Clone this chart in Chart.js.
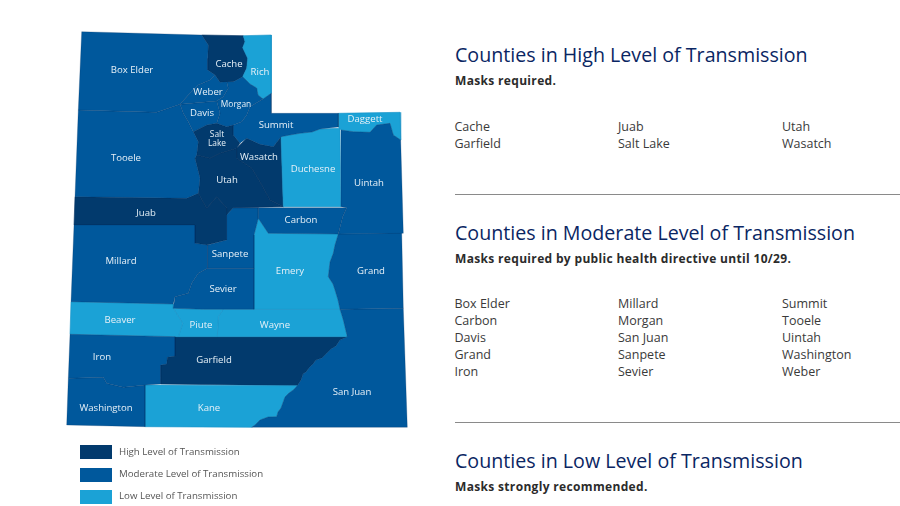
<!DOCTYPE html>
<html>
<head>
<meta charset="utf-8">
<script src="https://cdn.jsdelivr.net/npm/chart.js@4"></script>
<style>
  html, body { margin:0; padding:0; background:#fff; width:900px; height:506px; overflow:hidden; font-family:"Open Sans", sans-serif; }
  #map { position:absolute; left:0; top:0; filter:blur(0.4px); }
  .abs { position:absolute; white-space:nowrap; }
  .title { left:455px; font-size:19.65px; line-height:26px; color:#0a2663; }
  .note { left:455px; font-size:12px; line-height:16px; font-weight:700; color:#2b2b2b; letter-spacing:.33px; }
  .name { font-size:12.5px; line-height:17px; color:#3a3a3a; }
  .rule { left:455px; width:445px; height:1px; background:#8a8a8a; }
  .swatch { left:80px; width:32px; height:14px; filter:blur(0.4px); }
  .key { left:119px; font-size:9.7px; line-height:14px; color:#555; }
</style>
</head>
<body>
<canvas id="map" width="430" height="506" style="width:430px;height:506px"></canvas>
<script>
// ── County outlines (map units) ──────────────────────────────────────────────
const boxElder = [[81.7,31.7],[201.7,35],[208.3,45],[207.7,58.3],[207.7,70],[215,75],[210,80],[198.3,85],[188.3,95],[180,104.3],[156.7,112.3],[78.3,110]];
const cache = [[201.7,35],[243.3,35.7],[245,41.7],[242.7,47.7],[247.7,58.3],[246.7,68.3],[242.7,76.7],[233.3,81.7],[220,82.3],[215,75],[207.7,70],[207.7,58.3],[208.3,45]];
const rich = [[243.3,35.7],[271.3,35],[271.3,93.3],[263,99],[258,95],[256.7,88],[250,84],[242.7,76.7],[246.7,68.3],[247.7,58.3],[242.7,47.7],[245,41.7]];
const weber = [[215,75],[220,82.3],[226.7,81.7],[228.3,88.3],[223.3,96.7],[216.7,101],[180,104.3],[188.3,95],[198.3,85],[210,80]];
const davis = [[180,104.3],[216.7,101],[220,113.3],[216.7,123.3],[206.7,125],[193.3,131.7],[188.3,121.7],[183.3,113.3]];
const morgan = [[216.7,101],[223.3,96.7],[228.3,88.3],[226.7,81.7],[233.3,81.7],[242.7,76.7],[250,84],[256.7,88],[258,95],[263,99],[250,106.7],[246.7,115],[241.7,121.7],[233.3,125],[226.7,126.7],[216.7,123.3],[220,113.3]];
const summit = [[271.3,93.3],[271.3,113.3],[338.3,113.3],[338.3,127],[320,129],[312,132],[300,133.3],[290,135],[281,136.7],[273.3,146.7],[260,144.3],[246.7,138.3],[240,143.3],[233.3,135],[233.3,125],[241.7,121.7],[246.7,115],[250,106.7],[263,99]];
const daggett = [[338.3,113.3],[400,112.3],[400.7,140],[393.3,135],[390,123.3],[376.7,125],[370,132.3],[353.3,131.7],[341,130],[338.3,127]];
const saltLake = [[193.3,131.7],[206.7,125],[216.7,123.3],[226.7,126.7],[233.3,125],[233.3,135],[240,143.3],[236.7,148.3],[220,153.3],[210,158.3],[196.7,155],[198.3,141.7]];
const wasatch = [[236.7,148.3],[246.7,138.3],[260,144.3],[273.3,146.7],[281,136.7],[283.3,206.7],[270,200],[260,181.7],[251.7,168.3],[236.7,158.3]];
const duchesne = [[281,136.7],[290,135],[300,133.3],[312,132],[320,129],[340,128.3],[341,206.7],[283.3,206.7]];
const uintah = [[341,130],[353.3,131.7],[370,132.3],[376.7,125],[390,123.3],[393.3,135],[400.7,140],[403.3,233.3],[338.3,234],[342.7,216.7],[346.7,207.7],[341,206.7]];
const tooele = [[78.3,110],[156.7,112.3],[180,104.3],[183.3,113.3],[188.3,121.7],[193.3,131.7],[198.3,141.7],[196.7,155],[195,158.3],[200,178.3],[198.3,193.3],[186.7,198.3],[75,196.7]];
const utah = [[196.7,155],[210,158.3],[220,153.3],[236.7,148.3],[236.7,158.3],[251.7,168.3],[260,181.7],[270,200],[283.3,206.7],[233.3,207.7],[226.7,215],[226.7,208],[216.7,196.7],[206.7,208.3],[198.3,193.3],[200,178.3],[195,158.3]];
const juab = [[75,196.7],[186.7,198.3],[198.3,193.3],[206.7,208.3],[216.7,196.7],[226.7,208],[226.7,240],[206.7,245],[195,243.3],[195,225],[74,225]];
const carbon = [[233.3,207.7],[346.7,207.7],[342.7,216.7],[338.3,234],[268.3,233.3],[258.3,218.3],[258.3,207.7]];
const sanpete = [[233.3,207.7],[258.3,207.7],[258.3,218.3],[254,235],[254,268.3],[207.7,268.3],[207.7,245],[226.7,240],[226.7,215]];
const emery = [[258.3,218.3],[268.3,233.3],[338.3,234],[335,245],[333.3,253.3],[330,262],[328.3,276.7],[333,284],[335,290],[338,300],[340,309.3],[254,309.3],[254,235]];
const grand = [[338.3,234],[401.7,232.7],[403.3,308.3],[340,309.3],[338,300],[335,290],[333,284],[328.3,276.7],[330,262],[333.3,253.3],[335,245]];
const millard = [[74,225],[195,225],[195,243.3],[207.7,245],[207.7,268.3],[198.3,273.3],[191.7,283.3],[188.3,293.3],[175,296.7],[173.3,304],[71,301.7]];
const sevier = [[207.7,268.3],[254,268.3],[254,309.3],[223.3,309.3],[203.3,309.3],[173.3,308.3],[175,296.7],[188.3,293.3],[191.7,283.3],[198.3,273.3]];
const beaver = [[71,301.7],[173.3,304],[173.3,308.3],[182.7,323.3],[178.3,336.7],[70,334.3]];
const piute = [[173.3,308.3],[203.3,309.3],[223.3,309.3],[218.3,316.7],[217.3,336.7],[178.3,336.7],[182.7,323.3]];
const wayne = [[223.3,309.3],[340,309.3],[343.3,320],[347.3,336.7],[217.3,336.7],[218.3,316.7]];
const iron = [[70,334.3],[175,336.7],[175,356],[167.3,357.3],[166.7,364],[160.7,365],[160.7,384],[145,385],[123.3,387.3],[106.7,383.3],[103.3,377.3],[68.3,378.3]];
const garfield = [[175,336.7],[347.3,336.7],[340,340],[336,346],[331,349],[326.7,353.3],[322,358],[316,360],[313,364],[310,366.7],[306,372],[303,374],[301,380],[297.3,385.7],[160.7,384],[160.7,365],[166.7,364],[167.3,357.3],[175,356]];
const kane = [[145,385],[297.3,385.7],[293.3,390],[289,393],[285,397],[283.3,401.7],[281,408],[278,412],[276.7,416.7],[268,417],[260,420],[255,425],[251.7,427.3],[145,426.7]];
const washington = [[68.3,378.3],[103.3,377.3],[106.7,383.3],[123.3,387.3],[145,385],[145,426.7],[66.7,425]];
const sanJuan = [[340,309.3],[403.3,308.3],[407.3,427.3],[251.7,427.3],[255,425],[260,420],[268,417],[276.7,416.7],[278,412],[281,408],[283.3,401.7],[285,397],[289,393],[293.3,390],[297.3,385.7],[301,380],[303,374],[306,372],[310,366.7],[313,364],[316,360],[322,358],[326.7,353.3],[331,349],[336,346],[340,340],[347.3,336.7],[343.3,320]];

// ── Transmission level per county ────────────────────────────────────────────
const highShapes     = [cache, saltLake, wasatch, utah, juab, garfield];
const moderateShapes = [boxElder, weber, davis, morgan, summit, uintah, tooele, carbon, sanpete, grand, millard, sevier, iron, washington, sanJuan];
const lowShapes      = [rich, daggett, duchesne, emery, beaver, piute, wayne, kane];

const levelNames  = ["High Level of Transmission", "Moderate Level of Transmission", "Low Level of Transmission"];
const levelColors = ["#023a6d", "#00589c", "#1ba2d6"];

// ── Map labels ───────────────────────────────────────────────────────────────
const labelNames = ["Box Elder","Cache","Rich","Weber","Morgan","Davis","Summit","Daggett","Salt","Lake","Wasatch","Duchesne","Tooele","Uintah","Utah","Juab","Carbon","Sanpete","Emery","Grand","Millard","Sevier","Beaver","Piute","Wayne","Iron","Garfield","San Juan","Washington","Kane"];
const labelX     = [132,229,260,208,236,202,276,365,217,217,259,313,126,369,227,146,301,230,290,371,121,223,120,201,275,102,214,352,106,209];
const labelY     = [70.5,64.5,72.5,92.5,104.5,113.5,125.5,119.5,134.5,143.5,157.5,169.5,158.5,183.5,180.5,213.5,220.5,254.5,271.5,271.5,261.5,289.5,320.5,325.5,325.5,357.5,360.5,392.5,408.5,408.5];
const smallLabels = ["Morgan", "Salt", "Lake"];

// ── Right-hand lists ─────────────────────────────────────────────────────────
const highCounties     = [["Cache","Garfield"],["Juab","Salt Lake"],["Utah","Wasatch"]];
const moderateCounties = [["Box Elder","Carbon","Davis","Grand","Iron"],["Millard","Morgan","San Juan","Sanpete","Sevier"],["Summit","Tooele","Uintah","Washington","Weber"]];

function addText(cls, text, left, top) {
  const el = document.createElement("div");
  el.className = "abs " + cls;
  el.textContent = text;
  if (left !== null) el.style.left = left + "px";
  el.style.top = top + "px";
  document.body.appendChild(el);
}

function addList(columns, top) {
  const colX = [454.5, 618, 782];
  columns.forEach((names, c) => names.forEach((n, r) => addText("name", n, colX[c], top + r * 17)));
}

addText("title", "Counties in High Level of Transmission", null, 42);
addText("note", "Masks required.", null, 73);
addList(highCounties, 118);
addText("rule", "", null, 194);
addText("title", "Counties in Moderate Level of Transmission", null, 220);
addText("note", "Masks required by public health directive until 10/29.", null, 251);
addList(moderateCounties, 295);
addText("rule", "", null, 422);
addText("title", "Counties in Low Level of Transmission", null, 448);
addText("note", "Masks strongly recommended.", null, 479);

levelNames.forEach((name, i) => {
  const top = [445, 467.5, 489.5][i];
  const sw = document.createElement("div");
  sw.className = "abs swatch";
  sw.style.top = top + "px";
  sw.style.background = levelColors[i];
  document.body.appendChild(sw);
  addText("key", name, null, top - 0.5);
});

// ── Chart ────────────────────────────────────────────────────────────────────
function shapeDataset(shape, color, edge) {
  const pts = shape.map(p => ({ x: p[0], y: p[1] }));
  pts.push(pts[0]);  // close the ring so the border goes all the way round
  return {
    data: pts,
    backgroundColor: color,
    borderColor: edge,
    borderWidth: 0.6,
    fill: "shape",
    pointRadius: 0,
    tension: 0,
  };
}

// Draws county names on top of the polygons, placed through the chart's scales
const countyLabels = {
  id: "countyLabels",
  afterDatasetsDraw(chart) {
    const { ctx, scales } = chart;
    ctx.save();
    ctx.fillStyle = "#e6f0f7";
    ctx.textAlign = "center";
    ctx.textBaseline = "middle";
    labelNames.forEach((n, i) => {
      ctx.font = (smallLabels.includes(n) ? "8.4px" : "9.6px") + ' "Open Sans"';
      ctx.fillText(n, scales.x.getPixelForValue(labelX[i]), scales.y.getPixelForValue(labelY[i]));
    });
    ctx.restore();
  },
};

new Chart(document.getElementById("map").getContext("2d"), {
  type: "line",
  data: {
    datasets: [
      ...moderateShapes.map(s => shapeDataset(s, levelColors[1], "rgba(0,45,95,0.4)")),
      ...lowShapes.map(s => shapeDataset(s, levelColors[2], "#1690c6")),
      ...highShapes.map(s => shapeDataset(s, levelColors[0], "#03315f")),
    ],
  },
  options: {
    responsive: false,
    animation: false,
    layout: { padding: 0 },
    scales: {
      x: { type: "linear", display: false, min: 0, max: 430 },
      y: { type: "linear", display: false, min: 0, max: 506, reverse: true },
    },
    plugins: { legend: { display: false }, tooltip: { enabled: false } },
  },
  plugins: [countyLabels],
});
</script>
</body>
</html>
